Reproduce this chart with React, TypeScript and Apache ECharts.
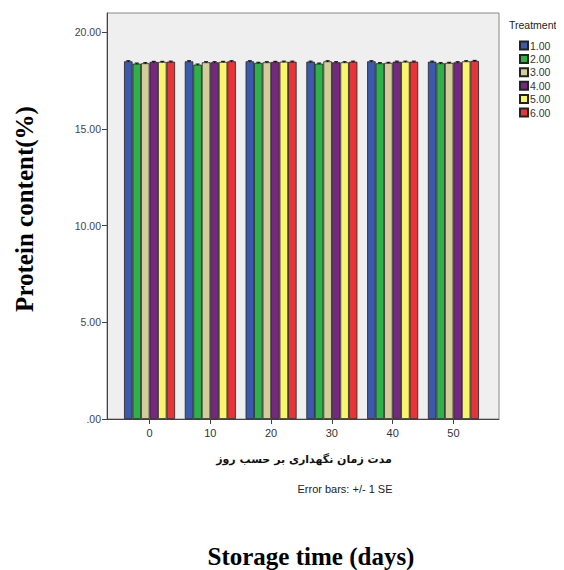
import React, { useEffect, useRef } from "react";
import * as echarts from "echarts";

const days = [0, 10, 20, 30, 40, 50];
const treatments = ["1.00", "2.00", "3.00", "4.00", "5.00", "6.00"];
const colors = ["#3d59ab", "#2fb14a", "#d3cd9a", "#74297f", "#f9f66e", "#e83439"];
// mean protein content per treatment (rows) for each storage day (columns)
const t1 = [18.5, 18.5, 18.5, 18.48, 18.5, 18.48];
const t2 = [18.38, 18.33, 18.42, 18.38, 18.4, 18.4];
const t3 = [18.4, 18.45, 18.45, 18.5, 18.42, 18.42];
const t4 = [18.47, 18.45, 18.47, 18.45, 18.48, 18.45];
const t5 = [18.47, 18.47, 18.48, 18.45, 18.48, 18.5];
const t6 = [18.48, 18.5, 18.48, 18.48, 18.48, 18.52];
const se = [0.03, 0.03, 0.03, 0.03, 0.03, 0.03];
const yTicks = [0, 5, 10, 15, 20];

const BAR_W = 8.5;

export default function App() {
  const ref = useRef<HTMLDivElement>(null);
  useEffect(() => {
    const chart = echarts.init(ref.current!, null, { renderer: "svg" });
    const allSeries = [t1, t2, t3, t4, t5, t6];
    const barSeries = allSeries.map((vals, i) => ({
      name: treatments[i],
      type: "bar",
      barWidth: BAR_W,
      barGap: "0%",
      data: days.map((d, j) => [d, vals[j]]),
      itemStyle: { color: colors[i], borderColor: "#222", borderWidth: 0.8 },
      z: 2,
    }));
    const errSeries = allSeries.map((vals, i) => ({
      name: "err" + i,
      type: "custom",
      z: 3,
      data: days.map((d, j) => [d, vals[j], se[i]]),
      renderItem: (params: any, api: any) => {
        const x = api.value(0);
        const m = api.value(1);
        const s = api.value(2);
        const hi = api.coord([x, m + s]);
        const lo = api.coord([x, m - s]);
        const cx = hi[0] + (i - 2.5) * BAR_W;
        const st = { stroke: "#000", lineWidth: 1 };
        return {
          type: "group",
          children: [
            { type: "line", shape: { x1: cx, y1: hi[1], x2: cx, y2: lo[1] }, style: st },
            { type: "line", shape: { x1: cx - 2, y1: hi[1], x2: cx + 2, y2: hi[1] }, style: st },
          ],
        };
      },
    }));
    chart.setOption({
      animation: false,
      backgroundColor: "#fff",
      grid: {
        left: 107,
        right: 65,
        top: 13,
        bottom: 151,
        show: true,
        backgroundColor: "#efefef",
        borderColor: "#888",
        borderWidth: 1,
      },
      legend: {
        data: treatments,
        orient: "vertical",
        left: 514,
        top: 35,
        itemWidth: 8,
        itemHeight: 8,
        itemGap: 2.4,
        icon: "rect",
        textStyle: { fontSize: 10.5, color: "#333", fontFamily: "Liberation Sans", lineHeight: 10, padding: [0, 0, 0, -3] },
      },
      xAxis: {
        type: "value",
        min: -7,
        max: 57.5,
        splitLine: { show: false },
        axisLine: { onZero: false, lineStyle: { color: "#444" } },
        axisTick: { customValues: days, length: 5, lineStyle: { color: "#444" } },
        axisLabel: {
          customValues: days,
          fontSize: 11,
          color: "#333",
          fontFamily: "Liberation Sans",
          margin: 8,
        },
      },
      yAxis: {
        type: "value",
        min: 0,
        max: 21,
        splitLine: { show: false },
        axisLine: { show: true, onZero: false, lineStyle: { color: "#444" } },
        axisTick: { customValues: yTicks, length: 5, lineStyle: { color: "#444" } },
        axisLabel: {
          customValues: yTicks,
          fontSize: 10.5,
          color: "#444",
          fontFamily: "Liberation Sans",
          margin: 6,
          formatter: (v: number) => (v === 0 ? ".00" : v.toFixed(2)),
        },
      },
      graphic: [
        {
          type: "text",
          x: 509,
          y: 25,
          style: {
            text: "Treatment",
            fontSize: 10.5,
            fill: "#222",
            fontFamily: "Liberation Sans",
            verticalAlign: "middle",
          },
        },
        {
          type: "text",
          x: 304,
          y: 459,
          style: {
            text: "مدت زمان نگهداری بر حسب روز",
            fontSize: 11,
            fontWeight: "bold",
            fill: "#111",
            fontFamily: "DejaVu Sans",
            align: "center",
            verticalAlign: "middle",
          },
        },
        {
          type: "text",
          x: 345,
          y: 489,
          style: {
            text: "Error bars: +/- 1 SE",
            fontSize: 11,
            fill: "#222",
            fontFamily: "Liberation Sans",
            align: "center",
            verticalAlign: "middle",
          },
        },
        {
          type: "text",
          x: 311,
          y: 556,
          style: {
            text: "Storage time (days)",
            fontSize: 25,
            fontWeight: "bold",
            fill: "#000",
            fontFamily: "Liberation Serif",
            align: "center",
            verticalAlign: "middle",
          },
        },
        {
          type: "text",
          x: 24,
          y: 209,
          rotation: Math.PI / 2,
          style: {
            text: "Protein content(%)",
            fontSize: 25,
            fontWeight: "bold",
            fill: "#000",
            fontFamily: "Liberation Serif",
            align: "center",
            verticalAlign: "middle",
          },
        },
      ],
      series: [...barSeries, ...errSeries],
    });
    return () => chart.dispose();
  }, []);
  return <div ref={ref} style={{ width: 564, height: 570, marginLeft: -8, marginTop: -8 }} />;
}
